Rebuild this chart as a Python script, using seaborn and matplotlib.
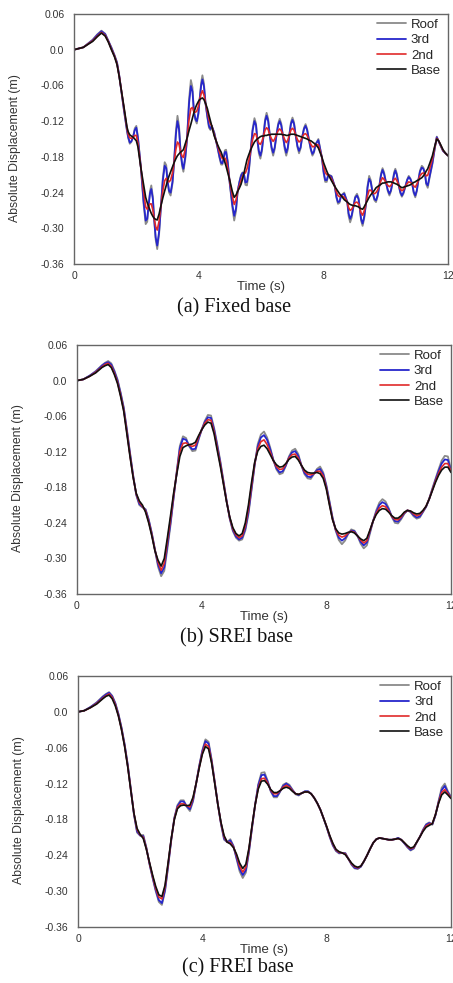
import matplotlib
matplotlib.use("Agg")
import matplotlib.pyplot as plt
from matplotlib.ticker import FixedLocator, FixedFormatter, MultipleLocator
import pandas as pd
import seaborn as sns

# ---------------- data ----------------
floors = ["Roof", "3rd", "2nd", "Base"]
floor_colors = {"Roof": "#8a8a8a", "3rd": "#2626cc", "2nd": "#e02a2a", "Base": "#101010"}
floor_widths = {"Roof": 1.3, "3rd": 1.3, "2nd": 1.2, "Base": 1.2}

y_ticks = [0.06, 0.0, -0.06, -0.12, -0.18, -0.24, -0.30, -0.36]
y_tick_labels = ["0.06", "0.0", "-0.06", "-0.12", "-0.18", "-0.24", "-0.30", "-0.36"]
x_ticks = [0, 4, 8, 12]
captions = ["(a) Fixed base", "(b) SREI base", "(c) FREI base"]

# (a) fixed base: time of each reading (s)
t_fixed = [0.0, 0.3, 0.6, 0.75, 0.88, 1.0, 1.1, 1.2, 1.3, 1.38,
           1.45, 1.6, 1.7, 1.74, 1.79, 1.84, 1.9, 1.95, 2.0, 2.05,
           2.15, 2.23, 2.3, 2.35, 2.39, 2.44, 2.48, 2.53, 2.57, 2.62,
           2.67, 2.73, 2.79, 2.85, 2.91, 2.96, 3.0, 3.05, 3.1, 3.16,
           3.21, 3.27, 3.32, 3.37, 3.42, 3.47, 3.51, 3.57, 3.63, 3.69,
           3.75, 3.8, 3.85, 3.9, 3.94, 3.99, 4.03, 4.08, 4.12, 4.17,
           4.22, 4.28, 4.33, 4.38, 4.42, 4.5, 4.61, 4.67, 4.72, 4.76,
           4.8, 4.84, 4.88, 4.93, 5.0, 5.08, 5.14, 5.2, 5.25, 5.31,
           5.36, 5.41, 5.45, 5.5, 5.55, 5.61, 5.67, 5.73, 5.79, 5.84,
           5.88, 5.93, 5.98, 6.03, 6.08, 6.13, 6.18, 6.23, 6.28, 6.34,
           6.39, 6.44, 6.5, 6.55, 6.6, 6.65, 6.7, 6.76, 6.81, 6.86,
           6.91, 6.96, 7.01, 7.06, 7.11, 7.17, 7.22, 7.27, 7.32, 7.38,
           7.43, 7.48, 7.54, 7.6, 7.65, 7.7, 7.75, 7.84, 7.95, 8.01,
           8.06, 8.11, 8.16, 8.26, 8.37, 8.42, 8.47, 8.52, 8.57, 8.67,
           8.77, 8.81, 8.86, 8.91, 8.97, 9.02, 9.08, 9.13, 9.17, 9.21,
           9.26, 9.31, 9.37, 9.42, 9.47, 9.52, 9.58, 9.64, 9.69, 9.74,
           9.8, 9.85, 9.9, 9.95, 10.01, 10.07, 10.12, 10.17, 10.22, 10.27,
           10.31, 10.36, 10.42, 10.47, 10.52, 10.57, 10.63, 10.69, 10.74, 10.79,
           10.85, 10.9, 10.95, 11.0, 11.05, 11.1, 11.16, 11.21, 11.26, 11.3,
           11.35, 11.42, 11.5, 11.57, 11.64, 11.7, 11.75, 11.84, 11.92, 12.0]
fixed_roof = [0.0, 0.004, 0.017, 0.026, 0.032, 0.027, 0.015, 0.004, -0.009, -0.021,
              -0.043, -0.101, -0.137, -0.148, -0.158, -0.155, -0.145, -0.132, -0.128, -0.146,
              -0.2, -0.258, -0.293, -0.289, -0.263, -0.237, -0.228, -0.247, -0.283, -0.319,
              -0.335, -0.31, -0.262, -0.215, -0.189, -0.194, -0.22, -0.24, -0.245, -0.225,
              -0.19, -0.136, -0.111, -0.128, -0.172, -0.196, -0.205, -0.184, -0.148, -0.084,
              -0.051, -0.063, -0.105, -0.119, -0.124, -0.109, -0.084, -0.055, -0.043, -0.057,
              -0.09, -0.114, -0.131, -0.135, -0.128, -0.139, -0.166, -0.182, -0.193, -0.193,
              -0.183, -0.169, -0.168, -0.186, -0.226, -0.265, -0.287, -0.271, -0.238, -0.221,
              -0.21, -0.206, -0.208, -0.227, -0.228, -0.206, -0.168, -0.133, -0.115, -0.124,
              -0.15, -0.174, -0.183, -0.171, -0.145, -0.117, -0.106, -0.116, -0.143, -0.167,
              -0.178, -0.167, -0.142, -0.124, -0.116, -0.124, -0.143, -0.167, -0.178, -0.168,
              -0.143, -0.122, -0.114, -0.122, -0.143, -0.164, -0.174, -0.166, -0.147, -0.131,
              -0.125, -0.133, -0.152, -0.169, -0.178, -0.173, -0.159, -0.15, -0.18, -0.208,
              -0.222, -0.222, -0.21, -0.212, -0.23, -0.249, -0.259, -0.257, -0.245, -0.24,
              -0.256, -0.279, -0.29, -0.282, -0.262, -0.247, -0.242, -0.249, -0.266, -0.287,
              -0.296, -0.284, -0.258, -0.228, -0.212, -0.219, -0.24, -0.253, -0.256, -0.247,
              -0.228, -0.208, -0.199, -0.206, -0.223, -0.238, -0.245, -0.238, -0.223, -0.206,
              -0.2, -0.208, -0.228, -0.241, -0.247, -0.242, -0.23, -0.218, -0.212, -0.216,
              -0.225, -0.241, -0.248, -0.238, -0.219, -0.203, -0.195, -0.198, -0.208, -0.226,
              -0.232, -0.212, -0.192, -0.168, -0.146, -0.154, -0.16, -0.17, -0.174, -0.178]
fixed_3rd = [0.0, 0.004, 0.016, 0.025, 0.031, 0.026, 0.015, 0.003, -0.01, -0.022,
             -0.043, -0.1, -0.135, -0.147, -0.156, -0.154, -0.146, -0.135, -0.131, -0.148,
             -0.2, -0.253, -0.287, -0.284, -0.263, -0.241, -0.234, -0.251, -0.283, -0.315,
             -0.329, -0.306, -0.262, -0.22, -0.195, -0.199, -0.22, -0.237, -0.24, -0.222,
             -0.19, -0.142, -0.12, -0.134, -0.172, -0.192, -0.2, -0.18, -0.148, -0.091,
             -0.061, -0.07, -0.105, -0.117, -0.12, -0.107, -0.084, -0.06, -0.05, -0.062,
             -0.09, -0.112, -0.128, -0.133, -0.128, -0.14, -0.165, -0.18, -0.19, -0.191,
             -0.183, -0.172, -0.172, -0.189, -0.225, -0.26, -0.279, -0.266, -0.238, -0.222,
             -0.212, -0.207, -0.208, -0.223, -0.222, -0.202, -0.168, -0.136, -0.12, -0.127,
             -0.15, -0.17, -0.178, -0.167, -0.145, -0.121, -0.111, -0.12, -0.143, -0.164,
             -0.173, -0.164, -0.142, -0.127, -0.12, -0.127, -0.143, -0.163, -0.173, -0.164,
             -0.143, -0.125, -0.118, -0.125, -0.143, -0.162, -0.17, -0.164, -0.147, -0.133,
             -0.128, -0.135, -0.152, -0.167, -0.175, -0.171, -0.159, -0.152, -0.18, -0.205,
             -0.219, -0.219, -0.21, -0.213, -0.23, -0.247, -0.256, -0.255, -0.245, -0.242,
             -0.256, -0.275, -0.284, -0.278, -0.262, -0.249, -0.245, -0.251, -0.266, -0.284,
             -0.292, -0.281, -0.258, -0.231, -0.217, -0.222, -0.24, -0.251, -0.253, -0.245,
             -0.228, -0.211, -0.202, -0.209, -0.223, -0.236, -0.242, -0.236, -0.223, -0.209,
             -0.203, -0.211, -0.228, -0.239, -0.245, -0.24, -0.23, -0.219, -0.214, -0.217,
             -0.225, -0.239, -0.245, -0.236, -0.219, -0.205, -0.198, -0.2, -0.208, -0.224,
             -0.228, -0.21, -0.19, -0.167, -0.147, -0.154, -0.16, -0.17, -0.174, -0.178]
fixed_2nd = [0.0, 0.004, 0.015, 0.023, 0.029, 0.024, 0.014, 0.001, -0.011, -0.024,
             -0.044, -0.097, -0.132, -0.142, -0.148, -0.149, -0.147, -0.144, -0.144, -0.157,
             -0.2, -0.237, -0.264, -0.268, -0.263, -0.259, -0.259, -0.269, -0.283, -0.297,
             -0.303, -0.288, -0.262, -0.237, -0.22, -0.216, -0.22, -0.222, -0.219, -0.207,
             -0.19, -0.167, -0.155, -0.159, -0.172, -0.179, -0.181, -0.167, -0.148, -0.118,
             -0.099, -0.097, -0.105, -0.105, -0.103, -0.095, -0.084, -0.074, -0.069, -0.076,
             -0.09, -0.104, -0.117, -0.125, -0.128, -0.143, -0.162, -0.172, -0.179, -0.183,
             -0.183, -0.182, -0.186, -0.199, -0.222, -0.246, -0.26, -0.252, -0.238, -0.228,
             -0.22, -0.213, -0.208, -0.207, -0.2, -0.186, -0.168, -0.151, -0.141, -0.142,
             -0.15, -0.157, -0.159, -0.154, -0.145, -0.135, -0.131, -0.134, -0.143, -0.15,
             -0.154, -0.15, -0.142, -0.136, -0.133, -0.136, -0.143, -0.151, -0.156, -0.152,
             -0.143, -0.135, -0.132, -0.135, -0.143, -0.151, -0.155, -0.153, -0.147, -0.142,
             -0.141, -0.144, -0.152, -0.159, -0.163, -0.163, -0.159, -0.16, -0.18, -0.196,
             -0.206, -0.21, -0.21, -0.217, -0.23, -0.239, -0.245, -0.247, -0.245, -0.248,
             -0.256, -0.265, -0.27, -0.268, -0.262, -0.257, -0.256, -0.259, -0.266, -0.274,
             -0.278, -0.271, -0.258, -0.245, -0.236, -0.236, -0.24, -0.242, -0.24, -0.236,
             -0.228, -0.22, -0.215, -0.218, -0.223, -0.228, -0.23, -0.228, -0.223, -0.218,
             -0.216, -0.22, -0.228, -0.234, -0.237, -0.235, -0.23, -0.225, -0.222, -0.223,
             -0.225, -0.229, -0.231, -0.226, -0.219, -0.212, -0.208, -0.207, -0.208, -0.212,
             -0.211, -0.198, -0.183, -0.165, -0.149, -0.153, -0.159, -0.169, -0.174, -0.178]
fixed_base = [0.0, 0.004, 0.014, 0.022, 0.028, 0.023, 0.013, 0.0, -0.012, -0.025,
              -0.045, -0.095, -0.13, -0.138, -0.143, -0.145, -0.147, -0.15, -0.153, -0.163,
              -0.2, -0.226, -0.248, -0.257, -0.263, -0.27, -0.275, -0.28, -0.283, -0.285,
              -0.286, -0.276, -0.262, -0.249, -0.237, -0.228, -0.22, -0.212, -0.205, -0.197,
              -0.19, -0.183, -0.178, -0.175, -0.172, -0.17, -0.168, -0.158, -0.148, -0.136,
              -0.125, -0.115, -0.105, -0.097, -0.092, -0.087, -0.084, -0.082, -0.081, -0.084,
              -0.09, -0.099, -0.11, -0.12, -0.128, -0.145, -0.16, -0.167, -0.172, -0.178,
              -0.183, -0.189, -0.196, -0.206, -0.22, -0.238, -0.248, -0.244, -0.238, -0.232,
              -0.226, -0.217, -0.208, -0.197, -0.185, -0.176, -0.168, -0.161, -0.155, -0.152,
              -0.15, -0.148, -0.146, -0.145, -0.145, -0.144, -0.144, -0.143, -0.143, -0.142,
              -0.142, -0.142, -0.142, -0.142, -0.142, -0.142, -0.143, -0.143, -0.144, -0.144,
              -0.143, -0.142, -0.142, -0.142, -0.143, -0.144, -0.145, -0.146, -0.147, -0.148,
              -0.149, -0.15, -0.152, -0.153, -0.155, -0.157, -0.159, -0.165, -0.18, -0.19,
              -0.197, -0.204, -0.21, -0.22, -0.23, -0.234, -0.238, -0.242, -0.245, -0.252,
              -0.256, -0.258, -0.26, -0.261, -0.262, -0.262, -0.263, -0.264, -0.266, -0.267,
              -0.268, -0.264, -0.258, -0.253, -0.248, -0.244, -0.24, -0.236, -0.232, -0.23,
              -0.228, -0.226, -0.224, -0.224, -0.223, -0.222, -0.222, -0.222, -0.223, -0.224,
              -0.225, -0.226, -0.228, -0.23, -0.232, -0.231, -0.23, -0.229, -0.228, -0.227,
              -0.225, -0.223, -0.222, -0.22, -0.219, -0.217, -0.215, -0.212, -0.208, -0.204,
              -0.2, -0.19, -0.178, -0.163, -0.15, -0.153, -0.158, -0.168, -0.174, -0.178]

# (b) and (c) isolated bases: readings every 0.1 s from 0.8 s on
t_iso = [0.0, 0.2, 0.4, 0.6, 0.8, 0.9,
         1.0, 1.1, 1.2, 1.3, 1.4, 1.5, 1.6, 1.7, 1.8, 1.9,
         2.0, 2.1, 2.2, 2.3, 2.4, 2.5, 2.6, 2.7, 2.8, 2.9,
         3.0, 3.1, 3.2, 3.3, 3.4, 3.5, 3.6, 3.7, 3.8, 3.9,
         4.0, 4.1, 4.2, 4.3, 4.4, 4.5, 4.6, 4.7, 4.8, 4.9,
         5.0, 5.1, 5.2, 5.3, 5.4, 5.5, 5.6, 5.7, 5.8, 5.9,
         6.0, 6.1, 6.2, 6.3, 6.4, 6.5, 6.6, 6.7, 6.8, 6.9,
         7.0, 7.1, 7.2, 7.3, 7.4, 7.5, 7.6, 7.7, 7.8, 7.9,
         8.0, 8.1, 8.2, 8.3, 8.4, 8.5, 8.6, 8.7, 8.8, 8.9,
         9.0, 9.1, 9.2, 9.3, 9.4, 9.5, 9.6, 9.7, 9.8, 9.9,
         10.0, 10.1, 10.2, 10.3, 10.4, 10.5, 10.6, 10.7, 10.8, 10.9,
         11.0, 11.1, 11.2, 11.3, 11.4, 11.5, 11.6, 11.7, 11.8, 11.9,
         12.0]

srei_roof = [0.0, 0.002, 0.008, 0.016, 0.026, 0.03,
             0.033, 0.029, 0.017, 0.002, -0.02, -0.045, -0.082, -0.121, -0.159, -0.193,
             -0.21, -0.214, -0.217, -0.234, -0.257, -0.285, -0.314, -0.33, -0.321, -0.284,
             -0.244, -0.198, -0.153, -0.11, -0.094, -0.097, -0.111, -0.119, -0.118, -0.1,
             -0.083, -0.068, -0.058, -0.059, -0.08, -0.107, -0.136, -0.169, -0.203, -0.233,
             -0.254, -0.265, -0.27, -0.268, -0.253, -0.226, -0.185, -0.143, -0.107, -0.091,
             -0.086, -0.096, -0.113, -0.134, -0.15, -0.158, -0.156, -0.144, -0.128, -0.118,
             -0.115, -0.124, -0.143, -0.158, -0.165, -0.166, -0.158, -0.149, -0.145, -0.155,
             -0.176, -0.203, -0.231, -0.253, -0.269, -0.276, -0.27, -0.259, -0.251, -0.253,
             -0.262, -0.275, -0.283, -0.278, -0.258, -0.237, -0.219, -0.206, -0.2, -0.204,
             -0.215, -0.23, -0.24, -0.241, -0.234, -0.225, -0.219, -0.222, -0.229, -0.233,
             -0.231, -0.222, -0.213, -0.199, -0.182, -0.166, -0.15, -0.135, -0.127, -0.128,
             -0.15]
srei_3rd = [0.0, 0.002, 0.008, 0.015, 0.025, 0.029,
            0.031, 0.027, 0.015, 0.0, -0.022, -0.047, -0.084, -0.123, -0.16, -0.192,
            -0.208, -0.213, -0.218, -0.235, -0.258, -0.285, -0.31, -0.325, -0.315, -0.278,
            -0.24, -0.197, -0.155, -0.114, -0.098, -0.1, -0.11, -0.116, -0.115, -0.098,
            -0.083, -0.07, -0.062, -0.063, -0.083, -0.11, -0.139, -0.171, -0.203, -0.232,
            -0.252, -0.263, -0.268, -0.265, -0.25, -0.222, -0.182, -0.142, -0.111, -0.096,
            -0.092, -0.1, -0.116, -0.134, -0.148, -0.155, -0.153, -0.143, -0.13, -0.121,
            -0.119, -0.127, -0.143, -0.156, -0.162, -0.163, -0.157, -0.151, -0.149, -0.158,
            -0.178, -0.205, -0.232, -0.252, -0.265, -0.27, -0.266, -0.258, -0.253, -0.254,
            -0.262, -0.272, -0.278, -0.273, -0.255, -0.237, -0.222, -0.21, -0.205, -0.208,
            -0.217, -0.229, -0.237, -0.238, -0.232, -0.224, -0.219, -0.221, -0.227, -0.231,
            -0.229, -0.221, -0.213, -0.2, -0.184, -0.168, -0.153, -0.14, -0.133, -0.134,
            -0.152]
srei_2nd = [0.0, 0.002, 0.007, 0.014, 0.023, 0.027,
            0.029, 0.024, 0.012, -0.003, -0.025, -0.05, -0.087, -0.126, -0.162, -0.191,
            -0.205, -0.212, -0.22, -0.238, -0.26, -0.286, -0.306, -0.32, -0.308, -0.271,
            -0.234, -0.193, -0.156, -0.12, -0.106, -0.105, -0.109, -0.111, -0.109, -0.095,
            -0.083, -0.072, -0.066, -0.067, -0.087, -0.114, -0.142, -0.173, -0.204, -0.231,
            -0.25, -0.26, -0.265, -0.262, -0.245, -0.216, -0.177, -0.14, -0.115, -0.103,
            -0.1, -0.108, -0.121, -0.135, -0.145, -0.15, -0.149, -0.141, -0.131, -0.125,
            -0.124, -0.131, -0.143, -0.153, -0.158, -0.159, -0.157, -0.153, -0.153, -0.161,
            -0.181, -0.208, -0.234, -0.251, -0.261, -0.264, -0.262, -0.257, -0.254, -0.256,
            -0.262, -0.269, -0.274, -0.27, -0.253, -0.237, -0.224, -0.215, -0.211, -0.213,
            -0.22, -0.229, -0.234, -0.235, -0.23, -0.223, -0.219, -0.22, -0.225, -0.228,
            -0.226, -0.22, -0.212, -0.2, -0.185, -0.17, -0.157, -0.146, -0.14, -0.14,
            -0.153]
srei_base = [0.0, 0.002, 0.007, 0.013, 0.022, 0.025,
             0.027, 0.022, 0.01, -0.005, -0.027, -0.052, -0.09, -0.128, -0.163, -0.19,
             -0.203, -0.21, -0.222, -0.24, -0.262, -0.287, -0.303, -0.313, -0.3, -0.265,
             -0.228, -0.19, -0.158, -0.128, -0.113, -0.11, -0.108, -0.107, -0.104, -0.093,
             -0.083, -0.075, -0.07, -0.072, -0.09, -0.118, -0.145, -0.175, -0.205, -0.23,
             -0.248, -0.258, -0.262, -0.258, -0.24, -0.21, -0.172, -0.138, -0.119, -0.111,
             -0.109, -0.115, -0.125, -0.135, -0.142, -0.146, -0.145, -0.14, -0.133, -0.129,
             -0.128, -0.134, -0.143, -0.151, -0.155, -0.156, -0.156, -0.155, -0.157, -0.165,
             -0.183, -0.21, -0.235, -0.25, -0.257, -0.259, -0.258, -0.256, -0.255, -0.257,
             -0.262, -0.267, -0.27, -0.266, -0.252, -0.237, -0.226, -0.219, -0.216, -0.217,
             -0.222, -0.228, -0.232, -0.232, -0.228, -0.222, -0.219, -0.22, -0.223, -0.225,
             -0.224, -0.219, -0.212, -0.2, -0.186, -0.172, -0.16, -0.151, -0.146, -0.146,
             -0.155]

frei_roof = [0.0, 0.002, 0.008, 0.016, 0.026, 0.03,
             0.033, 0.027, 0.015, -0.003, -0.026, -0.054, -0.088, -0.129, -0.172, -0.202,
             -0.207, -0.206, -0.227, -0.255, -0.278, -0.3, -0.318, -0.323, -0.3, -0.259,
             -0.215, -0.177, -0.156, -0.148, -0.148, -0.159, -0.166, -0.15, -0.12, -0.09,
             -0.064, -0.046, -0.05, -0.08, -0.117, -0.155, -0.188, -0.214, -0.218, -0.213,
             -0.224, -0.246, -0.267, -0.278, -0.269, -0.235, -0.194, -0.155, -0.121, -0.102,
             -0.101, -0.115, -0.133, -0.143, -0.143, -0.134, -0.122, -0.119, -0.122, -0.13,
             -0.138, -0.14, -0.136, -0.133, -0.133, -0.137, -0.144, -0.153, -0.164, -0.178,
             -0.193, -0.21, -0.224, -0.233, -0.237, -0.236, -0.236, -0.246, -0.256, -0.262,
             -0.263, -0.259, -0.25, -0.24, -0.229, -0.219, -0.213, -0.211, -0.212, -0.213,
             -0.214, -0.214, -0.213, -0.211, -0.214, -0.22, -0.227, -0.232, -0.229, -0.218,
             -0.209, -0.197, -0.188, -0.185, -0.189, -0.173, -0.149, -0.127, -0.12, -0.133,
             -0.142]
frei_3rd = [0.0, 0.002, 0.008, 0.015, 0.025, 0.029,
            0.032, 0.026, 0.014, -0.004, -0.027, -0.055, -0.089, -0.13, -0.171, -0.2,
            -0.207, -0.208, -0.228, -0.254, -0.277, -0.298, -0.315, -0.32, -0.298, -0.257,
            -0.214, -0.178, -0.158, -0.15, -0.15, -0.158, -0.163, -0.148, -0.12, -0.091,
            -0.066, -0.049, -0.053, -0.082, -0.118, -0.155, -0.187, -0.212, -0.218, -0.215,
            -0.225, -0.244, -0.263, -0.273, -0.265, -0.233, -0.193, -0.155, -0.123, -0.106,
            -0.105, -0.117, -0.132, -0.141, -0.141, -0.133, -0.124, -0.12, -0.124, -0.131,
            -0.137, -0.139, -0.136, -0.133, -0.133, -0.137, -0.144, -0.153, -0.164, -0.178,
            -0.193, -0.209, -0.223, -0.232, -0.236, -0.236, -0.237, -0.246, -0.255, -0.261,
            -0.262, -0.259, -0.25, -0.24, -0.229, -0.219, -0.213, -0.211, -0.212, -0.213,
            -0.214, -0.214, -0.213, -0.211, -0.214, -0.22, -0.226, -0.231, -0.228, -0.218,
            -0.209, -0.198, -0.189, -0.186, -0.188, -0.173, -0.151, -0.131, -0.124, -0.135,
            -0.143]
frei_2nd = [0.0, 0.002, 0.007, 0.014, 0.023, 0.027,
            0.03, 0.024, 0.012, -0.006, -0.029, -0.057, -0.091, -0.131, -0.17, -0.197,
            -0.206, -0.21, -0.229, -0.253, -0.275, -0.295, -0.31, -0.313, -0.293, -0.254,
            -0.213, -0.179, -0.16, -0.154, -0.154, -0.157, -0.159, -0.145, -0.12, -0.093,
            -0.069, -0.054, -0.058, -0.084, -0.119, -0.155, -0.186, -0.209, -0.218, -0.219,
            -0.226, -0.24, -0.258, -0.268, -0.26, -0.23, -0.191, -0.155, -0.127, -0.112,
            -0.111, -0.119, -0.131, -0.137, -0.137, -0.132, -0.126, -0.123, -0.126, -0.132,
            -0.137, -0.138, -0.136, -0.134, -0.134, -0.137, -0.144, -0.153, -0.164, -0.178,
            -0.192, -0.208, -0.221, -0.231, -0.235, -0.236, -0.238, -0.246, -0.254, -0.259,
            -0.261, -0.258, -0.25, -0.24, -0.229, -0.219, -0.213, -0.211, -0.212, -0.213,
            -0.214, -0.214, -0.213, -0.212, -0.214, -0.219, -0.225, -0.229, -0.227, -0.218,
            -0.209, -0.199, -0.191, -0.188, -0.187, -0.172, -0.152, -0.135, -0.13, -0.137,
            -0.144]
frei_base = [0.0, 0.002, 0.007, 0.013, 0.022, 0.026,
             0.028, 0.022, 0.01, -0.007, -0.03, -0.058, -0.092, -0.132, -0.17, -0.195,
             -0.205, -0.212, -0.23, -0.252, -0.273, -0.292, -0.306, -0.309, -0.29, -0.252,
             -0.212, -0.18, -0.162, -0.157, -0.156, -0.157, -0.156, -0.143, -0.12, -0.094,
             -0.071, -0.058, -0.062, -0.086, -0.12, -0.155, -0.185, -0.207, -0.218, -0.221,
             -0.227, -0.238, -0.253, -0.262, -0.255, -0.228, -0.19, -0.155, -0.129, -0.116,
             -0.115, -0.121, -0.13, -0.135, -0.135, -0.132, -0.128, -0.126, -0.128, -0.133,
             -0.137, -0.138, -0.136, -0.134, -0.134, -0.137, -0.144, -0.153, -0.164, -0.178,
             -0.192, -0.207, -0.22, -0.23, -0.234, -0.236, -0.239, -0.246, -0.253, -0.258,
             -0.26, -0.258, -0.25, -0.24, -0.229, -0.219, -0.213, -0.211, -0.212, -0.213,
             -0.214, -0.214, -0.213, -0.212, -0.214, -0.219, -0.224, -0.228, -0.226, -0.218,
             -0.209, -0.2, -0.193, -0.19, -0.187, -0.172, -0.153, -0.139, -0.134, -0.139,
             -0.145]

panels = [
    (t_fixed, {"Roof": fixed_roof, "3rd": fixed_3rd, "2nd": fixed_2nd, "Base": fixed_base}),
    (t_iso, {"Roof": srei_roof, "3rd": srei_3rd, "2nd": srei_2nd, "Base": srei_base}),
    (t_iso, {"Roof": frei_roof, "3rd": frei_3rd, "2nd": frei_2nd, "Base": frei_base}),
]

# ---------------- figure ----------------
sns.set_theme(style="white")
plt.rcParams["font.family"] = ["Liberation Sans", "DejaVu Sans"]

W, H = 453, 983
fig = plt.figure(figsize=(W / 100, H / 100), dpi=100)

# axes boxes in pixels: left, top, right, bottom
boxes = [(74, 14, 448, 264), (77, 345, 451, 594), (78, 676, 451, 927)]
caption_y = [308, 638, 968]

for (t, series), box, cap, cy in zip(panels, boxes, captions, caption_y):
    l, tp, r, b = box
    ax = fig.add_axes([l / W, 1 - b / H, (r - l) / W, (b - tp) / H])
    frames = [pd.DataFrame({"Time": t, "Disp": series[f], "Floor": f}) for f in floors]
    df = pd.concat(frames, ignore_index=True)
    for f in floors:
        sns.lineplot(data=df[df["Floor"] == f], x="Time", y="Disp", ax=ax,
                     color=floor_colors[f], linewidth=floor_widths[f], label=f,
                     estimator=None, sort=False, solid_joinstyle="round")
    ax.set_xlim(0, 12)
    ax.set_ylim(-0.36, 0.06)
    ax.xaxis.set_major_locator(FixedLocator(x_ticks))
    ax.xaxis.set_minor_locator(MultipleLocator(2))
    ax.yaxis.set_major_locator(FixedLocator(y_ticks))
    ax.yaxis.set_major_formatter(FixedFormatter(y_tick_labels))
    ax.yaxis.set_minor_locator(MultipleLocator(0.03))
    ax.tick_params(which="both", direction="in", colors="#555555", labelcolor="#333333",
                   width=0.8)
    ax.tick_params(which="major", length=4, labelsize=7.5)
    ax.tick_params(which="minor", length=2.5)
    ax.tick_params(axis="y", pad=7)
    ax.tick_params(axis="x", pad=5)
    for sp in ax.spines.values():
        sp.set_color("#666666")
        sp.set_linewidth(1.0)
    ax.set_xlabel("Time (s)", fontsize=9.5, color="#333333", labelpad=0)
    ax.set_ylabel("Absolute Displacement (m)", fontsize=8.8, color="#333333")
    ax.yaxis.set_label_coords(-0.142, 0.464)
    ax.legend(loc="upper right", bbox_to_anchor=(0.985, 0.987), frameon=False,
              fontsize=9.5, handlelength=2.2, handletextpad=0.4, labelspacing=0.24,
              borderaxespad=0, borderpad=0.1)
    fig.text(((l + r) / 2 - 27) / W, 1 - cy / H, cap, ha="center", va="center",
             fontsize=14.5, family=["Liberation Serif", "DejaVu Serif"], color="#111111")

fig.savefig("out.png", dpi=100)
